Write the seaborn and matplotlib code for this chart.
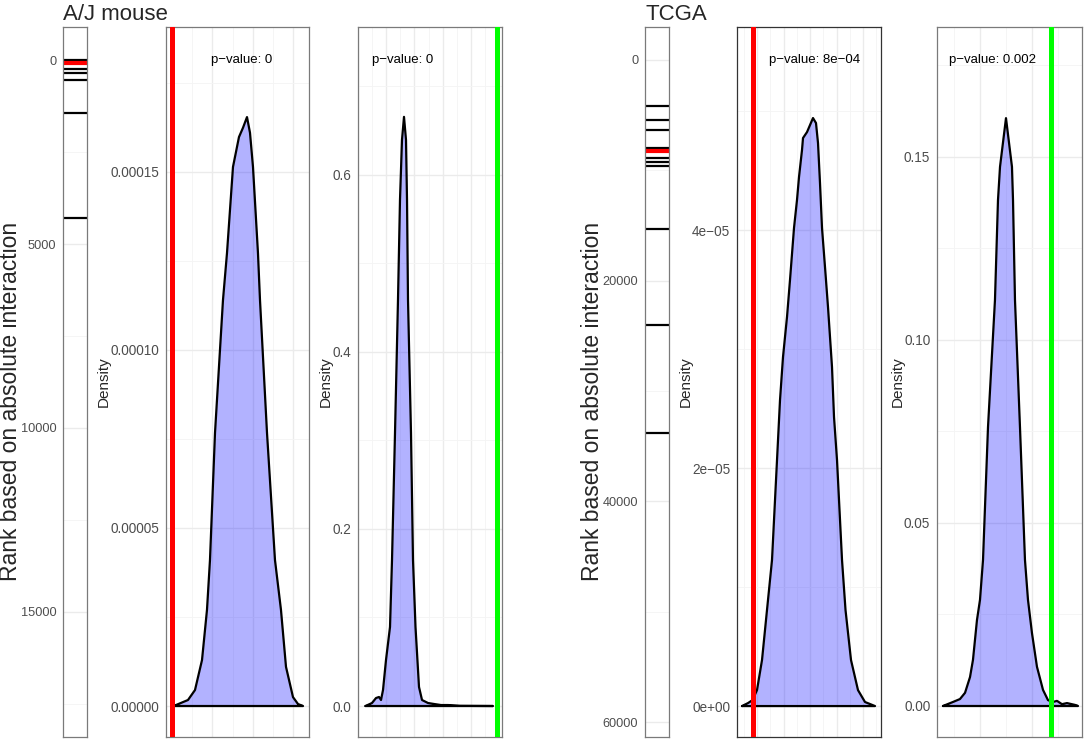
import numpy as np
import pandas as pd
import matplotlib.pyplot as plt
import seaborn as sns

# ranks (by absolute interaction) of the pairs in the set; red = the highlighted pair
AJ_RANKS = [0, 252, 345, 543, 1436, 4301]
AJ_RED_RANK = 68
TCGA_RANKS = [4170, 5440, 6346, 7978, 8885, 9248, 9610, 15322, 24025, 33817]
TCGA_RED_RANK = 8250

# permutation densities, x in axis-break units (tick labels are cut off in the figure)
AJ_D1_X = [0.000, 0.099, 0.395, 0.568, 0.741, 0.864, 0.938, 1.062, 1.259, 1.358, 1.506, 1.654, 1.753,
           1.852, 1.926, 2.000, 2.123, 2.173, 2.346, 2.543, 2.691, 2.815, 2.988, 3.111, 3.235]
AJ_D1_Y = [0, 0.28e-6, 1.69e-6, 4.49e-6, 12.9e-6, 27.0e-6, 41.0e-6, 76.7e-6, 114.0e-6, 127.2e-6,
           151.4e-6, 159.8e-6, 162.4e-6, 165.4e-6, 161.0e-6, 151.4e-6, 127.2e-6, 114.0e-6, 76.7e-6,
           41.0e-6, 27.0e-6, 11.0e-6, 2.5e-6, 0.56e-6, 0]
AJ_D1_OBS = 0.0

AJ_D2_X = [0.266, 0.496, 0.638, 0.745, 0.816, 0.887, 0.993, 1.135, 1.206, 1.312, 1.418, 1.489, 1.560,
           1.631, 1.702, 1.738, 1.773, 1.879, 1.950, 2.039, 2.163, 2.270, 2.482, 2.695, 2.943, 3.191,
           3.617, 4.787]
AJ_D2_Y = [0, 0.0034, 0.0090, 0.0102, 0.0068, 0.0181, 0.0520, 0.0893, 0.1650, 0.3085, 0.4588, 0.5718,
           0.6395, 0.6655, 0.6395, 0.5718, 0.4588, 0.3085, 0.1650, 0.0893, 0.0215, 0.0068, 0.0034,
           0.0023, 0.0011, 0.0011, 0.0002, 0]
AJ_D2_OBS = 4.929

TCGA_D1_X = [-0.566, -0.340, -0.170, 0.000, 0.189, 0.377, 0.566, 0.755, 0.868, 0.981, 1.132, 1.245,
             1.396, 1.509, 1.585, 1.698, 1.736, 1.887, 2.113, 2.226, 2.302, 2.377, 2.453, 2.566, 2.679,
             2.830, 2.906, 3.019, 3.208, 3.340, 3.547, 3.811, 4.075, 4.453]
TCGA_D1_Y = [0, 0.25e-6, 0.50e-6, 1.34e-6, 3.87e-6, 8.07e-6, 12.27e-6, 20.67e-6, 25.71e-6, 29.33e-6,
             32.69e-6, 35.80e-6, 40.17e-6, 42.52e-6, 44.46e-6, 46.72e-6, 47.73e-6, 48.23e-6, 49.41e-6,
             48.99e-6, 47.31e-6, 43.95e-6, 40.17e-6, 36.89e-6, 33.53e-6, 28.49e-6, 24.29e-6, 20.67e-6,
             12.27e-6, 8.07e-6, 3.87e-6, 1.34e-6, 0.34e-6, 0]
TCGA_D1_OBS = -0.170

TCGA_D2_X = [-0.712, -0.519, -0.385, -0.288, -0.192, -0.135, -0.058, 0.000, 0.058, 0.154, 0.288, 0.346,
             0.385, 0.500, 0.615, 0.635, 0.673, 0.769, 0.865, 0.923, 1.000, 1.096, 1.212, 1.308, 1.404,
             1.481, 1.577, 1.673, 1.827, 1.885]
TCGA_D2_Y = [0, 0.0011, 0.0019, 0.0036, 0.0079, 0.0126, 0.0235, 0.0290, 0.0399, 0.0762, 0.1109, 0.1382,
             0.1473, 0.1606, 0.1473, 0.1382, 0.1109, 0.0762, 0.0399, 0.0290, 0.0199, 0.0107, 0.0044,
             0.0016, 0.0011, 0.0014, 0.0005, 0.0008, 0.0003, 0]
TCGA_D2_OBS = 1.365

P_VALUES = ["0", "0", "8e\u221204", "0.002"]

W, H = 1084, 743
sns.set_theme(style="white")
plt.rcParams['font.family'] = ['Liberation Sans', 'DejaVu Sans']

GRID_MAJ = dict(color="#EBEBEB", linewidth=1.0)
GRID_MIN = dict(color="#F4F4F4", linewidth=0.6)


def px_rect(left, right, top=27, bottom=737):
    return [left / W, (H - bottom) / H, (right - left) / W, (bottom - top) / H]


def style_axis(ax, edge="#7A7A7A", labelsize=9.8):
    for sp in ax.spines.values():
        sp.set_visible(True)
        sp.set_color(edge)
        sp.set_linewidth(0.9)
    ax.tick_params(axis="both", which="major", length=3, width=0.8, color="#333333",
                   labelsize=labelsize, labelcolor="#4D4D4D", pad=1.8)
    ax.tick_params(axis="both", which="minor", length=0)
    ax.set_axisbelow(True)
    ax.grid(True, which="major", **GRID_MAJ)
    ax.grid(True, which="minor", **GRID_MIN)


def rank_panel(rect, ranks, red_rank, yticks, ylabels, yminor, ylim):
    ax = fig.add_axes(rect)
    sns.rugplot(y=ranks, height=1, color="black", linewidth=1.6, expand_margins=False, ax=ax)
    sns.rugplot(y=[red_rank], height=1, color="#FF0000", linewidth=3.0, expand_margins=False, ax=ax)
    ax.set_xlim(0, 1)
    ax.set_ylim(*ylim)
    ax.set_xticks([])
    ax.set_yticks(yticks, ylabels)
    ax.set_yticks(yminor, minor=True)
    style_axis(ax, labelsize=9.2)
    ax.grid(False, axis="x", which="both")
    ax.set_ylabel("")
    return ax


def density_panel(rect, xs, ys, obs, obs_color, xlim, xmaj, xmin_, ylim, yticks, ylabels, yminor,
                  ptext, ptext_x, edge="#7A7A7A"):
    ax = fig.add_axes(rect)
    df = pd.DataFrame({"x": xs + [xs[0]], "y": ys + [ys[0]]})
    ax.fill_between(xs, ys, 0, color=(0, 0, 1), alpha=0.3, linewidth=0)
    sns.lineplot(data=df, x="x", y="y", sort=False, estimator=None, color="black",
                 linewidth=1.6, ax=ax)
    ax.axvline(obs, color=obs_color, linewidth=3.6, zorder=5)
    ax.set_xlim(*xlim)
    ax.set_ylim(*ylim)
    ax.set_xticks(xmaj, [""] * len(xmaj))
    ax.set_xticks(xmin_, minor=True)
    ax.set_yticks(yticks, ylabels)
    ax.set_yticks(yminor, minor=True)
    style_axis(ax, edge)
    ax.set_xlabel("")
    ax.set_ylabel("Density", fontsize=11, labelpad=-0.5)
    ax.text(ptext_x, 0.953, "p\u2212value: " + ptext, transform=ax.get_xaxis_transform(),
            ha="center", va="center", fontsize=9.5, color="black")
    return ax


fig = plt.figure(figsize=(W / 100, H / 100), dpi=100)

# ---- A/J mouse ----
rank_panel(px_rect(63, 87), AJ_RANKS, AJ_RED_RANK,
           [0, 5000, 10000, 15000], ["0", "5000", "10000", "15000"],
           [2500, 7500, 12500, 17500], (18397, -897))

density_panel(px_rect(166, 309), AJ_D1_X, AJ_D1_Y, AJ_D1_OBS, "#FF0000",
              (-0.148, 3.383), [0, 1, 2, 3], [0.5, 1.5, 2.5],
              (-8.7e-6, 1.907e-4), [0, 5e-5, 1e-4, 1.5e-4],
              ["0.00000", "0.00005", "0.00010", "0.00015"], [2.5e-5, 7.5e-5, 1.25e-4, 1.75e-4],
              P_VALUES[0], 1.73)

density_panel(px_rect(358, 502), AJ_D2_X, AJ_D2_Y, AJ_D2_OBS, "#00FF00",
              (0, 5.106), [0, 1, 2, 3, 4, 5], [0.5, 1.5, 2.5, 3.5, 4.5],
              (-0.035, 0.767), [0, 0.2, 0.4, 0.6], ["0.0", "0.2", "0.4", "0.6"],
              [0.1, 0.3, 0.5, 0.7], P_VALUES[1], 1.60)

# ---- TCGA ----
rank_panel(px_rect(645, 669), TCGA_RANKS, TCGA_RED_RANK,
           [0, 20000, 40000, 60000], ["0", "20000", "40000", "60000"],
           [10000, 30000, 50000], (61350, -2990))

density_panel(px_rect(737, 881), TCGA_D1_X, TCGA_D1_Y, TCGA_D1_OBS, "#FF0000",
              (-0.755, 4.679), [0, 1, 2, 3, 4], [-0.5, 0.5, 1.5, 2.5, 3.5, 4.5],
              (-2.6e-6, 5.706e-5), [0, 2e-5, 4e-5], ["0e+00", "2e\u221205", "4e\u221205"],
              [1e-5, 3e-5, 5e-5], P_VALUES[2], 2.19, edge="#333333")

density_panel(px_rect(937, 1082), TCGA_D2_X, TCGA_D2_Y, TCGA_D2_OBS, "#00FF00",
              (-0.827, 1.962), [0, 1], [-0.5, 0.5, 1.5],
              (-0.00847, 0.1855), [0, 0.05, 0.10, 0.15], ["0.00", "0.05", "0.10", "0.15"],
              [0.025, 0.075, 0.125, 0.175], P_VALUES[3], 0.25)

# rank axis titles and block titles
for xpx in (10.8, 592.5):
    fig.text(xpx / W, (H - 401) / H, "Rank based on absolute interaction", fontsize=16.5,
             rotation=90, ha="center", va="center")
fig.text(63 / W, (H - 20) / H, "A/J mouse", fontsize=16, ha="left", va="baseline")
fig.text(645 / W, (H - 20) / H, "TCGA", fontsize=16, ha="left", va="baseline")

fig.savefig("out.png", dpi=100)
